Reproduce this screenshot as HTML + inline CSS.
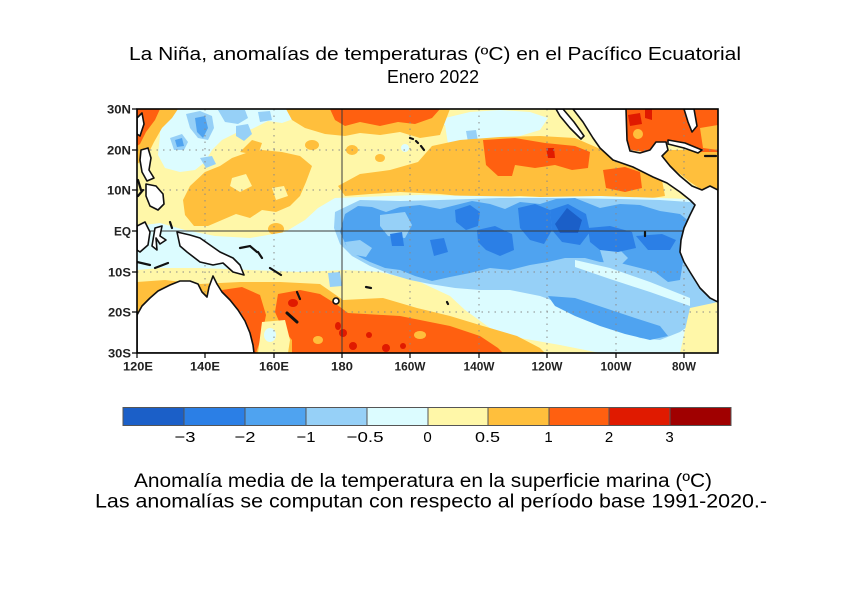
<!DOCTYPE html>
<html><head><meta charset="utf-8"><style>html,body{margin:0;padding:0;background:#fff}svg{display:block}</style></head>
<body>
<svg width="850" height="600" viewBox="0 0 850 600" xmlns="http://www.w3.org/2000/svg">
<defs><clipPath id="m"><rect x="137" y="109" width="581" height="244"/></clipPath></defs>
<rect width="850" height="600" fill="#fff"/>
<g font-family="Liberation Sans, Arial, sans-serif" fill="#000" text-anchor="middle">
<text x="435" y="60" font-size="18" textLength="612" lengthAdjust="spacingAndGlyphs">La Niña, anomalías de temperaturas (ºC) en el Pacífico Ecuatorial</text>
<text x="433" y="83" font-size="18" textLength="92" lengthAdjust="spacingAndGlyphs">Enero 2022</text>
</g>
<g clip-path="url(#m)">
<rect x="137" y="109" width="581" height="244" fill="#fff7a8"/>
<!-- NW cyan / blues -->
<path fill="#dcfcff" d="M160,109 L300,109 L296,118 L282,123 L268,121 L252,129 L236,133 L222,140 L212,150 L205,162 L195,170 L180,172 L165,168 L158,155 L160,135 Z"/>
<path fill="#96d0f7" d="M186,114 L200,111 L212,116 L214,128 L208,140 L198,138 L190,128 Z"/>
<path fill="#4fa3f0" d="M195,118 L205,116 L208,128 L203,138 L197,132 Z"/>
<path fill="#96d0f7" d="M218,110 L245,110 L248,118 L238,124 L225,122 Z"/>
<path fill="#96d0f7" d="M236,126 L248,124 L252,134 L244,141 L236,136 Z"/>
<path fill="#96d0f7" d="M170,138 L182,134 L188,142 L184,150 L174,150 Z"/>
<path fill="#4fa3f0" d="M175,140 L182,138 L184,146 L177,147 Z"/>
<path fill="#96d0f7" d="M200,158 L212,156 L216,164 L206,168 Z"/>
<path fill="#96d0f7" d="M258,112 L270,111 L272,120 L260,122 Z"/>
<!-- top-left corner warm -->
<path fill="#ffbf3c" d="M137,109 L178,109 L172,118 L162,128 L154,142 L146,158 L137,164 Z"/>
<path fill="#ff6010" d="M137,109 L160,109 L155,120 L146,132 L140,144 L137,146 Z"/>
<!-- NE cyan -->
<path fill="#dcfcff" d="M445,118 L470,112 L500,110 L530,112 L548,118 L540,130 L520,136 L495,140 L470,146 L450,144 L440,136 Z"/>
<path fill="#96d0f7" d="M466,131 L476,130 L478,141 L468,142 Z"/>
<!-- force pale yellow just east of dateline -->
<path fill="#fff7a8" d="M342,125 L445,125 L448,144 L432,150 L418,162 L390,170 L360,174 L342,180 Z"/>
<!-- top center warm -->
<path fill="#ffbf3c" d="M286,109 L450,109 L445,122 L440,135 L420,138 L400,132 L380,135 L360,133 L345,136 L325,134 L305,128 L292,120 Z"/>
<path fill="#ff6010" d="M330,109 L440,109 L432,118 L415,124 L398,122 L380,126 L360,122 L345,126 L335,120 Z"/>
<!-- scattered orange in yellow north -->
<ellipse cx="352" cy="150" rx="6" ry="5" fill="#ffbf3c"/>
<ellipse cx="380" cy="158" rx="5" ry="4" fill="#ffbf3c"/>
<ellipse cx="312" cy="145" rx="7" ry="5" fill="#ffbf3c"/>
<ellipse cx="405" cy="148" rx="4" ry="4" fill="#dcfcff"/>
<!-- north warm bands -->
<path fill="#ffbf3c" d="M338,186 L360,174 L390,170 L418,162 L432,146 L460,140 L500,137 L540,136 L575,138 L598,148 L620,158 L645,165 L662,180 L665,196 L640,200 L600,196 L560,198 L520,196 L480,198 L440,194 L400,192 L370,194 L345,196 Z"/>
<path fill="#ff6010" d="M483,140 L515,138 L545,143 L575,146 L590,152 L588,168 L572,170 L555,165 L535,168 L515,165 L512,176 L498,176 L486,165 Z"/>
<path fill="#e01a00" d="M546,148 L554,148 L555,158 L548,158 Z"/>
<path fill="#ff6010" d="M603,170 L625,167 L640,172 L642,188 L625,192 L606,188 Z"/>
<path fill="#ffbf3c" d="M183,200 L190,186 L205,172 L220,166 L232,158 L246,153 L262,150 L282,152 L300,156 L312,166 L306,182 L300,196 L290,206 L276,212 L262,210 L250,218 L236,214 L222,220 L208,226 L194,226 L185,215 Z"/>
<path fill="#fff7a8" d="M232,178 L246,174 L252,186 L240,192 L230,186 Z"/>
<path fill="#fff7a8" d="M272,188 L284,186 L288,196 L276,200 Z"/>
<path fill="#ffbf3c" d="M240,152 L252,140 L262,143 L258,155 Z"/>
<ellipse cx="276" cy="229" rx="8" ry="6" fill="#ffbf3c"/>
<!-- equatorial cool -->
<path fill="#dcfcff" d="M137,226 L160,223 L185,230 L215,236 L250,238 L285,232 L305,220 L318,208 L335,198 L360,197 L420,195 L480,196 L540,197 L600,196 L660,198 L718,200 L718,353 L600,353 L560,345 L520,338 L490,328 L465,310 L450,296 L420,282 L380,272 L345,270 L300,272 L250,270 L200,268 L160,268 L137,270 Z"/>
<path fill="#96d0f7" d="M335,212 L360,200 L400,201 L440,200 L500,198 L560,198 L620,199 L660,200 L718,204 L718,300 L700,318 L680,332 L660,340 L640,338 L615,328 L590,316 L565,305 L540,296 L510,290 L480,290 L455,288 L430,284 L410,280 L390,274 L370,266 L352,256 L340,244 L334,228 Z"/>
<path fill="#4fa3f0" d="M345,214 L358,206 L372,207 L386,212 L400,207 L420,205 L440,209 L456,205 L472,201 L490,204 L505,209 L520,202 L540,204 L556,199 L575,198 L600,208 L620,204 L640,205 L660,211 L680,214 L690,222 L688,240 L684,256 L680,280 L668,282 L655,272 L640,268 L620,263 L600,262 L585,258 L565,258 L548,262 L530,265 L510,270 L490,268 L470,273 L450,277 L432,281 L415,276 L400,270 L385,268 L370,262 L356,255 L346,245 L340,232 Z"/>
<path fill="#96d0f7" d="M380,215 L405,212 L412,225 L405,238 L388,236 L380,226 Z"/>
<path fill="#96d0f7" d="M345,242 L360,240 L372,248 L366,257 L350,254 Z"/>
<path fill="#96d0f7" d="M600,250 L618,248 L628,258 L620,266 L604,263 Z"/>
<path fill="#2b7fe6" d="M455,210 L470,205 L480,212 L478,226 L466,230 L456,222 Z"/>
<path fill="#2b7fe6" d="M477,230 L495,226 L512,234 L514,250 L500,256 L486,250 L478,242 Z"/>
<path fill="#2b7fe6" d="M518,208 L535,204 L550,210 L552,230 L544,244 L530,240 L520,228 Z"/>
<path fill="#2b7fe6" d="M550,210 L568,204 L586,214 L590,232 L580,245 L562,242 L552,230 Z"/>
<path fill="#2b7fe6" d="M588,228 L610,226 L632,232 L636,248 L618,252 L600,250 L590,242 Z"/>
<path fill="#2b7fe6" d="M636,236 L662,234 L676,240 L670,250 L648,250 Z"/>
<path fill="#2b7fe6" d="M390,234 L402,232 L404,246 L392,246 Z"/>
<path fill="#2b7fe6" d="M430,240 L444,238 L448,252 L434,256 Z"/>
<path fill="#1b5fc8" d="M567,208 L582,220 L578,233 L560,233 L555,224 Z"/>
<path fill="#4fa3f0" d="M548,296 L575,298 L605,308 L635,318 L660,326 L668,336 L650,340 L625,334 L600,326 L575,316 L555,306 Z"/>
<path fill="#dcfcff" d="M575,260 L610,268 L650,282 L690,298 L690,306 L650,292 L610,279 L575,267 Z"/>
<path fill="#fff7a8" d="M690,308 L718,302 L718,353 L680,353 L685,330 Z"/>
<!-- south warm -->
<path fill="#ffbf3c" d="M137,282 L165,280 L200,284 L240,282 L280,282 L320,284 L343,300 L383,298 L417,308 L450,316 L483,326 L517,336 L540,348 L545,353 L137,353 Z"/>
<path fill="#ff6010" d="M222,290 L242,287 L260,295 L266,315 L262,335 L256,353 L230,353 Z"/>
<path fill="#ff6010" d="M278,294 L300,290 L320,294 L336,304 L348,313 L400,316 L450,326 L480,336 L498,348 L503,353 L292,353 L292,340 L282,328 L275,312 Z"/>
<path fill="#fff7a8" d="M262,322 L285,320 L290,340 L288,353 L258,353 Z"/>
<ellipse cx="270" cy="335" rx="6" ry="7" fill="#dcfcff"/>
<ellipse cx="420" cy="335" rx="6" ry="4" fill="#ffbf3c"/>
<ellipse cx="318" cy="340" rx="5" ry="4" fill="#ffbf3c"/>
<path fill="#96d0f7" d="M328,273 L340,272 L342,286 L330,287 Z"/>
<g fill="#e01a00">
<ellipse cx="343" cy="333" rx="4" ry="4"/><ellipse cx="369" cy="335" rx="3" ry="3"/><ellipse cx="353" cy="346" rx="4" ry="4"/>
<ellipse cx="386" cy="348" rx="4" ry="4"/><ellipse cx="403" cy="346" rx="3" ry="3"/><ellipse cx="293" cy="303" rx="5" ry="4"/><ellipse cx="338" cy="326" rx="3" ry="4"/>
</g>
<!-- Gulf / Caribbean -->
<path fill="#ffbf3c" d="M650,150 L718,150 L718,192 L705,192 L690,182 L675,170 L660,160 Z"/>
<path fill="#ff6010" d="M620,109 L718,109 L718,152 L700,152 L688,146 L672,140 L660,146 L645,152 L630,150 L625,135 Z"/>
<path fill="#e01a00" d="M628,115 L640,113 L642,124 L630,126 Z"/>
<path fill="#e01a00" d="M645,109 L652,109 L652,120 L645,118 Z"/>
<ellipse cx="638" cy="134" rx="5" ry="5" fill="#ffbf3c"/>
<path fill="#ffbf3c" d="M700,128 L718,125 L718,150 L703,148 Z"/>
<!-- grid -->
<g stroke="#8a8a8a" stroke-width="1" stroke-dasharray="1.5,5" fill="none">
<path d="M205,109 V353 M274,109 V353 M410,109 V353 M479,109 V353 M547,109 V353 M616,109 V353 M684,109 V353"/>
<path d="M137,150 H718 M137,190 H718 M137,272 H718 M137,312 H718"/>
</g>
<g stroke="#3a3a3a" stroke-width="1" fill="none">
<path d="M342,109 V353 M137,231 H718"/>
</g>
<!-- land -->
<g fill="#fff" stroke="#111" stroke-width="1.6" stroke-linejoin="round">
<path d="M573,109 L583,122 L593,138 L600,148 L613,160 L633,167 L653,177 L667,183 L680,192 L690,200 L695,205 L690,215 L684,228 L681,240 L680,252 L684,262 L690,272 L700,288 L710,298 L718,302 L718,190 L710,186 L702,190 L692,186 L680,176 L670,166 L662,156 L668,150 L666,142 L656,142 L650,150 L640,153 L630,151 L627,140 L626,109 Z"/>
<path d="M556,109 L563,109 L574,122 L584,136 L581,139 L570,128 L560,116 Z"/>
<path d="M668,140 L685,143 L702,150 L698,153 L684,148 L668,144 Z"/>
<path d="M684,109 L694,109 L697,126 L692,132 L688,122 Z"/>
<path d="M141,150 L148,148 L151,158 L149,170 L154,178 L147,181 L142,172 L140,160 Z"/>
<path d="M146,184 L156,186 L163,194 L164,204 L158,210 L150,206 L146,196 Z"/>
<path d="M137,118 L142,113 L144,124 L140,136 L137,134 Z"/>
<path d="M137,226 L145,222 L150,232 L148,245 L140,252 L137,250 Z"/>
<path d="M155,228 L162,226 L160,236 L166,240 L160,244 L156,238 L157,250 L152,246 Z"/>
<path d="M177,232 L190,235 L200,238 L210,245 L220,252 L233,258 L240,265 L244,275 L233,272 L223,263 L213,265 L200,262 L187,252 L180,246 Z"/>
<path d="M137,315 L142,306 L150,298 L158,291 L170,285 L180,281 L190,281 L198,284 L202,292 L207,297 L209,287 L213,276 L217,284 L222,292 L230,300 L238,310 L245,321 L250,333 L253,345 L254,353 L137,353 Z"/>
<circle cx="336" cy="301" r="3"/>
</g>
<g stroke="#111" stroke-width="2.2" fill="none" stroke-linecap="round">
<path d="M705,156 L716,156 M137,262 L150,265 M155,268 L168,263 M170,222 L172,228 M138,180 L141,190 M138,196 L143,190"/>
<path d="M240,248 L250,246 L257,252 M258,252 L262,258 M270,268 L281,275 M297,292 L300,299 M366,287 L371,288 M447,302 L448,304"/>
<path d="M287,313 L297,322" stroke-width="3"/>
<path d="M410,138 L413,139 M416,141 L418,143 M421,146 L424,150 M645,232 L645,236"/>
</g>
</g>
<rect x="137" y="109" width="581" height="244" fill="none" stroke="#000" stroke-width="1.6"/>
<!-- ticks -->
<g stroke="#000" stroke-width="1.2">
<path d="M132,109 H137 M132,150 H137 M132,190 H137 M132,231 H137 M132,272 H137 M132,312 H137 M132,353 H137"/>
<path d="M137,353 V358 M205,353 V358 M274,353 V358 M342,353 V358 M410,353 V358 M479,353 V358 M547,353 V358 M616,353 V358 M684,353 V358"/>
</g>
<g font-family="Liberation Sans, Arial, sans-serif" font-size="11.5" font-weight="bold" fill="#222" text-anchor="end">
<text x="131" y="113.5" textLength="24" lengthAdjust="spacingAndGlyphs">30N</text>
<text x="131" y="154.5" textLength="24" lengthAdjust="spacingAndGlyphs">20N</text>
<text x="131" y="194.5" textLength="24" lengthAdjust="spacingAndGlyphs">10N</text>
<text x="131" y="235.5" textLength="17" lengthAdjust="spacingAndGlyphs">EQ</text>
<text x="131" y="276.5" textLength="23" lengthAdjust="spacingAndGlyphs">10S</text>
<text x="131" y="316.5" textLength="23" lengthAdjust="spacingAndGlyphs">20S</text>
<text x="131" y="357.5" textLength="23" lengthAdjust="spacingAndGlyphs">30S</text>
</g>
<g font-family="Liberation Sans, Arial, sans-serif" font-size="11.5" font-weight="bold" fill="#222" text-anchor="middle">
<text x="138" y="370.5" textLength="30" lengthAdjust="spacingAndGlyphs">120E</text>
<text x="205" y="370.5" textLength="30" lengthAdjust="spacingAndGlyphs">140E</text>
<text x="274" y="370.5" textLength="30" lengthAdjust="spacingAndGlyphs">160E</text>
<text x="342" y="370.5" textLength="22" lengthAdjust="spacingAndGlyphs">180</text>
<text x="410" y="370.5" textLength="31" lengthAdjust="spacingAndGlyphs">160W</text>
<text x="479" y="370.5" textLength="31" lengthAdjust="spacingAndGlyphs">140W</text>
<text x="547" y="370.5" textLength="31" lengthAdjust="spacingAndGlyphs">120W</text>
<text x="616" y="370.5" textLength="31" lengthAdjust="spacingAndGlyphs">100W</text>
<text x="684" y="370.5" textLength="24" lengthAdjust="spacingAndGlyphs">80W</text>
</g>
<!-- colorbar -->
<g stroke="#555" stroke-width="1">
<rect x="123" y="407.5" width="61" height="18" fill="#1b5fc8"/>
<rect x="184" y="407.5" width="61" height="18" fill="#2b7fe6"/>
<rect x="245" y="407.5" width="61" height="18" fill="#4fa3f0"/>
<rect x="306" y="407.5" width="61" height="18" fill="#96d0f7"/>
<rect x="367" y="407.5" width="61" height="18" fill="#dcfcff"/>
<rect x="428" y="407.5" width="60" height="18" fill="#fff7a8"/>
<rect x="488" y="407.5" width="61" height="18" fill="#ffbf3c"/>
<rect x="549" y="407.5" width="60" height="18" fill="#ff6010"/>
<rect x="609" y="407.5" width="61" height="18" fill="#e01a00"/>
<rect x="670" y="407.5" width="61" height="18" fill="#a00000"/>
</g>
<g font-family="Liberation Sans, Arial, sans-serif" font-size="15" fill="#000" text-anchor="middle">
<text x="185" y="442" textLength="21" lengthAdjust="spacingAndGlyphs">−3</text>
<text x="245" y="442" textLength="21" lengthAdjust="spacingAndGlyphs">−2</text>
<text x="306" y="442" textLength="19" lengthAdjust="spacingAndGlyphs">−1</text>
<text x="365" y="442" textLength="37" lengthAdjust="spacingAndGlyphs">−0.5</text>
<text x="427.5" y="442">0</text>
<text x="487.5" y="442" textLength="25" lengthAdjust="spacingAndGlyphs">0.5</text>
<text x="548.5" y="442">1</text>
<text x="609" y="442">2</text>
<text x="669.5" y="442">3</text>
</g>
<g font-family="Liberation Sans, Arial, sans-serif" font-size="19" fill="#000" text-anchor="middle">
<text x="423" y="487" textLength="578" lengthAdjust="spacingAndGlyphs">Anomalía media de la temperatura en la superficie marina (ºC)</text>
<text x="431" y="507.5" textLength="672" lengthAdjust="spacingAndGlyphs">Las anomalías se computan con respecto al período base 1991-2020.-</text>
</g>
</svg>
</body></html>
